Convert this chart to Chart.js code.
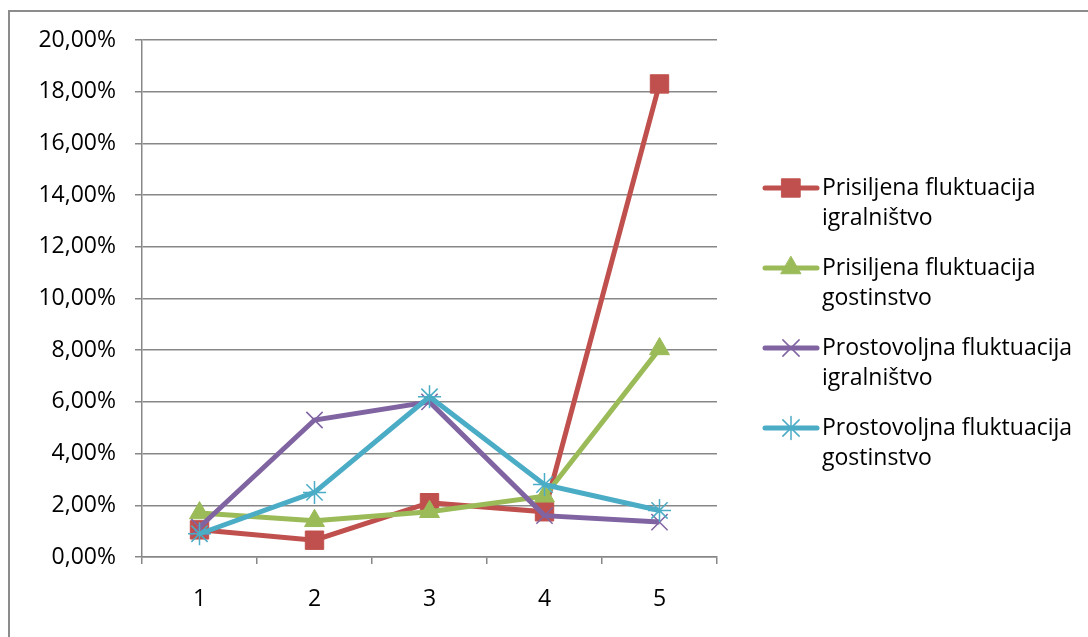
<!DOCTYPE html>
<html>
<head>
<meta charset="utf-8">
<script src="https://cdn.jsdelivr.net/npm/chart.js@4/dist/chart.umd.min.js"></script>
<style>
  body { margin: 0; background: #fff; }
  #wrap { position: relative; width: 1088px; height: 637px; }
</style>
</head>
<body>
<div id="wrap"><canvas id="fluktuacija"></canvas></div>
<script>
const categories = ['1', '2', '3', '4', '5'];

// percent values per year
const prisiljenaIgralnistvo = [1.05, 0.65, 2.1, 1.75, 18.3];
const prisiljenaGostinstvo = [1.7, 1.4, 1.75, 2.35, 8.05];
const prostovoljnaIgralnistvo = [1.15, 5.3, 6.0, 1.6, 1.35];
const prostovoljnaGostinstvo = [0.9, 2.5, 6.2, 2.8, 1.8];

const seriesLabels = [
    ['Prisiljena fluktuacija', 'igralništvo'],
    ['Prisiljena fluktuacija', 'gostinstvo'],
    ['Prostovoljna fluktuacija', 'igralništvo'],
    ['Prostovoljna fluktuacija', 'gostinstvo']
];

const FONT = "'Open Sans', sans-serif";
const GRID = '#878787';

const fmt = v => v.toFixed(2).replace('.', ',') + '%';

// frame lines along the top and left edge
const framePlugin = {
    id: 'frame',
    beforeDraw(chart) {
        const ctx = chart.ctx;
        ctx.save();
        ctx.fillStyle = '#fff';
        ctx.fillRect(0, 0, chart.width, chart.height);
        ctx.strokeStyle = '#8c8c8c';
        ctx.lineWidth = 2;
        ctx.beginPath();
        ctx.moveTo(9, chart.height);
        ctx.lineTo(9, 11);
        ctx.lineTo(chart.width, 11);
        ctx.stroke();
        ctx.restore();
    }
};

// legend on the right, labels split over two lines
const sideLegend = {
    id: 'sideLegend',
    afterDraw(chart) {
        const ctx = chart.ctx;
        ctx.save();
        ctx.font = '23px ' + FONT;
        ctx.textBaseline = 'middle';
        chart.data.datasets.forEach((ds, i) => {
            const y = 188 + i * 80;
            ctx.strokeStyle = ds.borderColor;
            ctx.lineWidth = ds.borderWidth;
            ctx.lineCap = 'round';
            ctx.beginPath();
            ctx.moveTo(765, y);
            ctx.lineTo(817, y);
            ctx.stroke();
            ctx.fillStyle = ds.pointBackgroundColor;
            ctx.strokeStyle = ds.pointBorderColor;
            ctx.lineWidth = ds.pointBorderWidth;
            Chart.helpers.drawPoint(ctx, {
                pointStyle: ds.pointStyle,
                radius: ds.pointRadius,
                rotation: 0,
                borderWidth: ds.pointBorderWidth
            }, 791, y);
            ctx.fillStyle = '#000';
            seriesLabels[i].forEach((line, j) => {
                ctx.fillText(line, 822, y + j * 30);
            });
        });
        ctx.restore();
    }
};

function series(data, color, style, radius, bw, order) {
    return {
        data: data,
        borderColor: color,
        backgroundColor: color,
        borderWidth: 5,
        pointStyle: style,
        pointRadius: radius,
        pointHoverRadius: radius,
        pointBackgroundColor: color,
        pointBorderColor: color,
        pointBorderWidth: bw,
        tension: 0,
        order: order
    };
}

const ctx = document.getElementById('fluktuacija').getContext('2d');
const chart = new Chart(ctx, {
    type: 'line',
    data: {
        labels: categories,
        datasets: [
            series(prisiljenaIgralnistvo, '#c0504d', 'rect', 13, 1, 4),
            series(prisiljenaGostinstvo, '#9bbb59', 'triangle', 11.5, 1, 3),
            series(prostovoljnaIgralnistvo, '#8064a2', 'crossRot', 11.5, 1.5, 2),
            series(prostovoljnaGostinstvo, '#4bacc6', 'star', 11.5, 1.5, 1)
        ]
    },
    options: {
        responsive: true,
        maintainAspectRatio: false,
        animation: false,
        layout: { padding: { left: 0, top: 40, right: 371, bottom: 0 } },
        plugins: {
            legend: { display: false },
            tooltip: { enabled: false }
        },
        scales: {
            x: {
                offset: true,
                afterFit: s => { s.height = 80; },
                grid: {
                    offset: true,
                    drawOnChartArea: false,
                    color: GRID,
                    lineWidth: 1.5,
                    tickLength: 7
                },
                border: { color: GRID, width: 1.5 },
                ticks: { color: '#000', font: { family: FONT, size: 23 }, padding: 22 }
            },
            y: {
                min: 0,
                max: 20,
                afterFit: s => { s.width = 142; },
                grid: { color: GRID, lineWidth: 1.5, tickLength: 7 },
                border: { color: GRID, width: 1.5 },
                ticks: {
                    stepSize: 2,
                    color: '#000',
                    font: { family: FONT, size: 23 },
                    padding: 19,
                    callback: v => fmt(v)
                }
            }
        }
    },
    plugins: [framePlugin, sideLegend]
});
</script>
</body>
</html>
